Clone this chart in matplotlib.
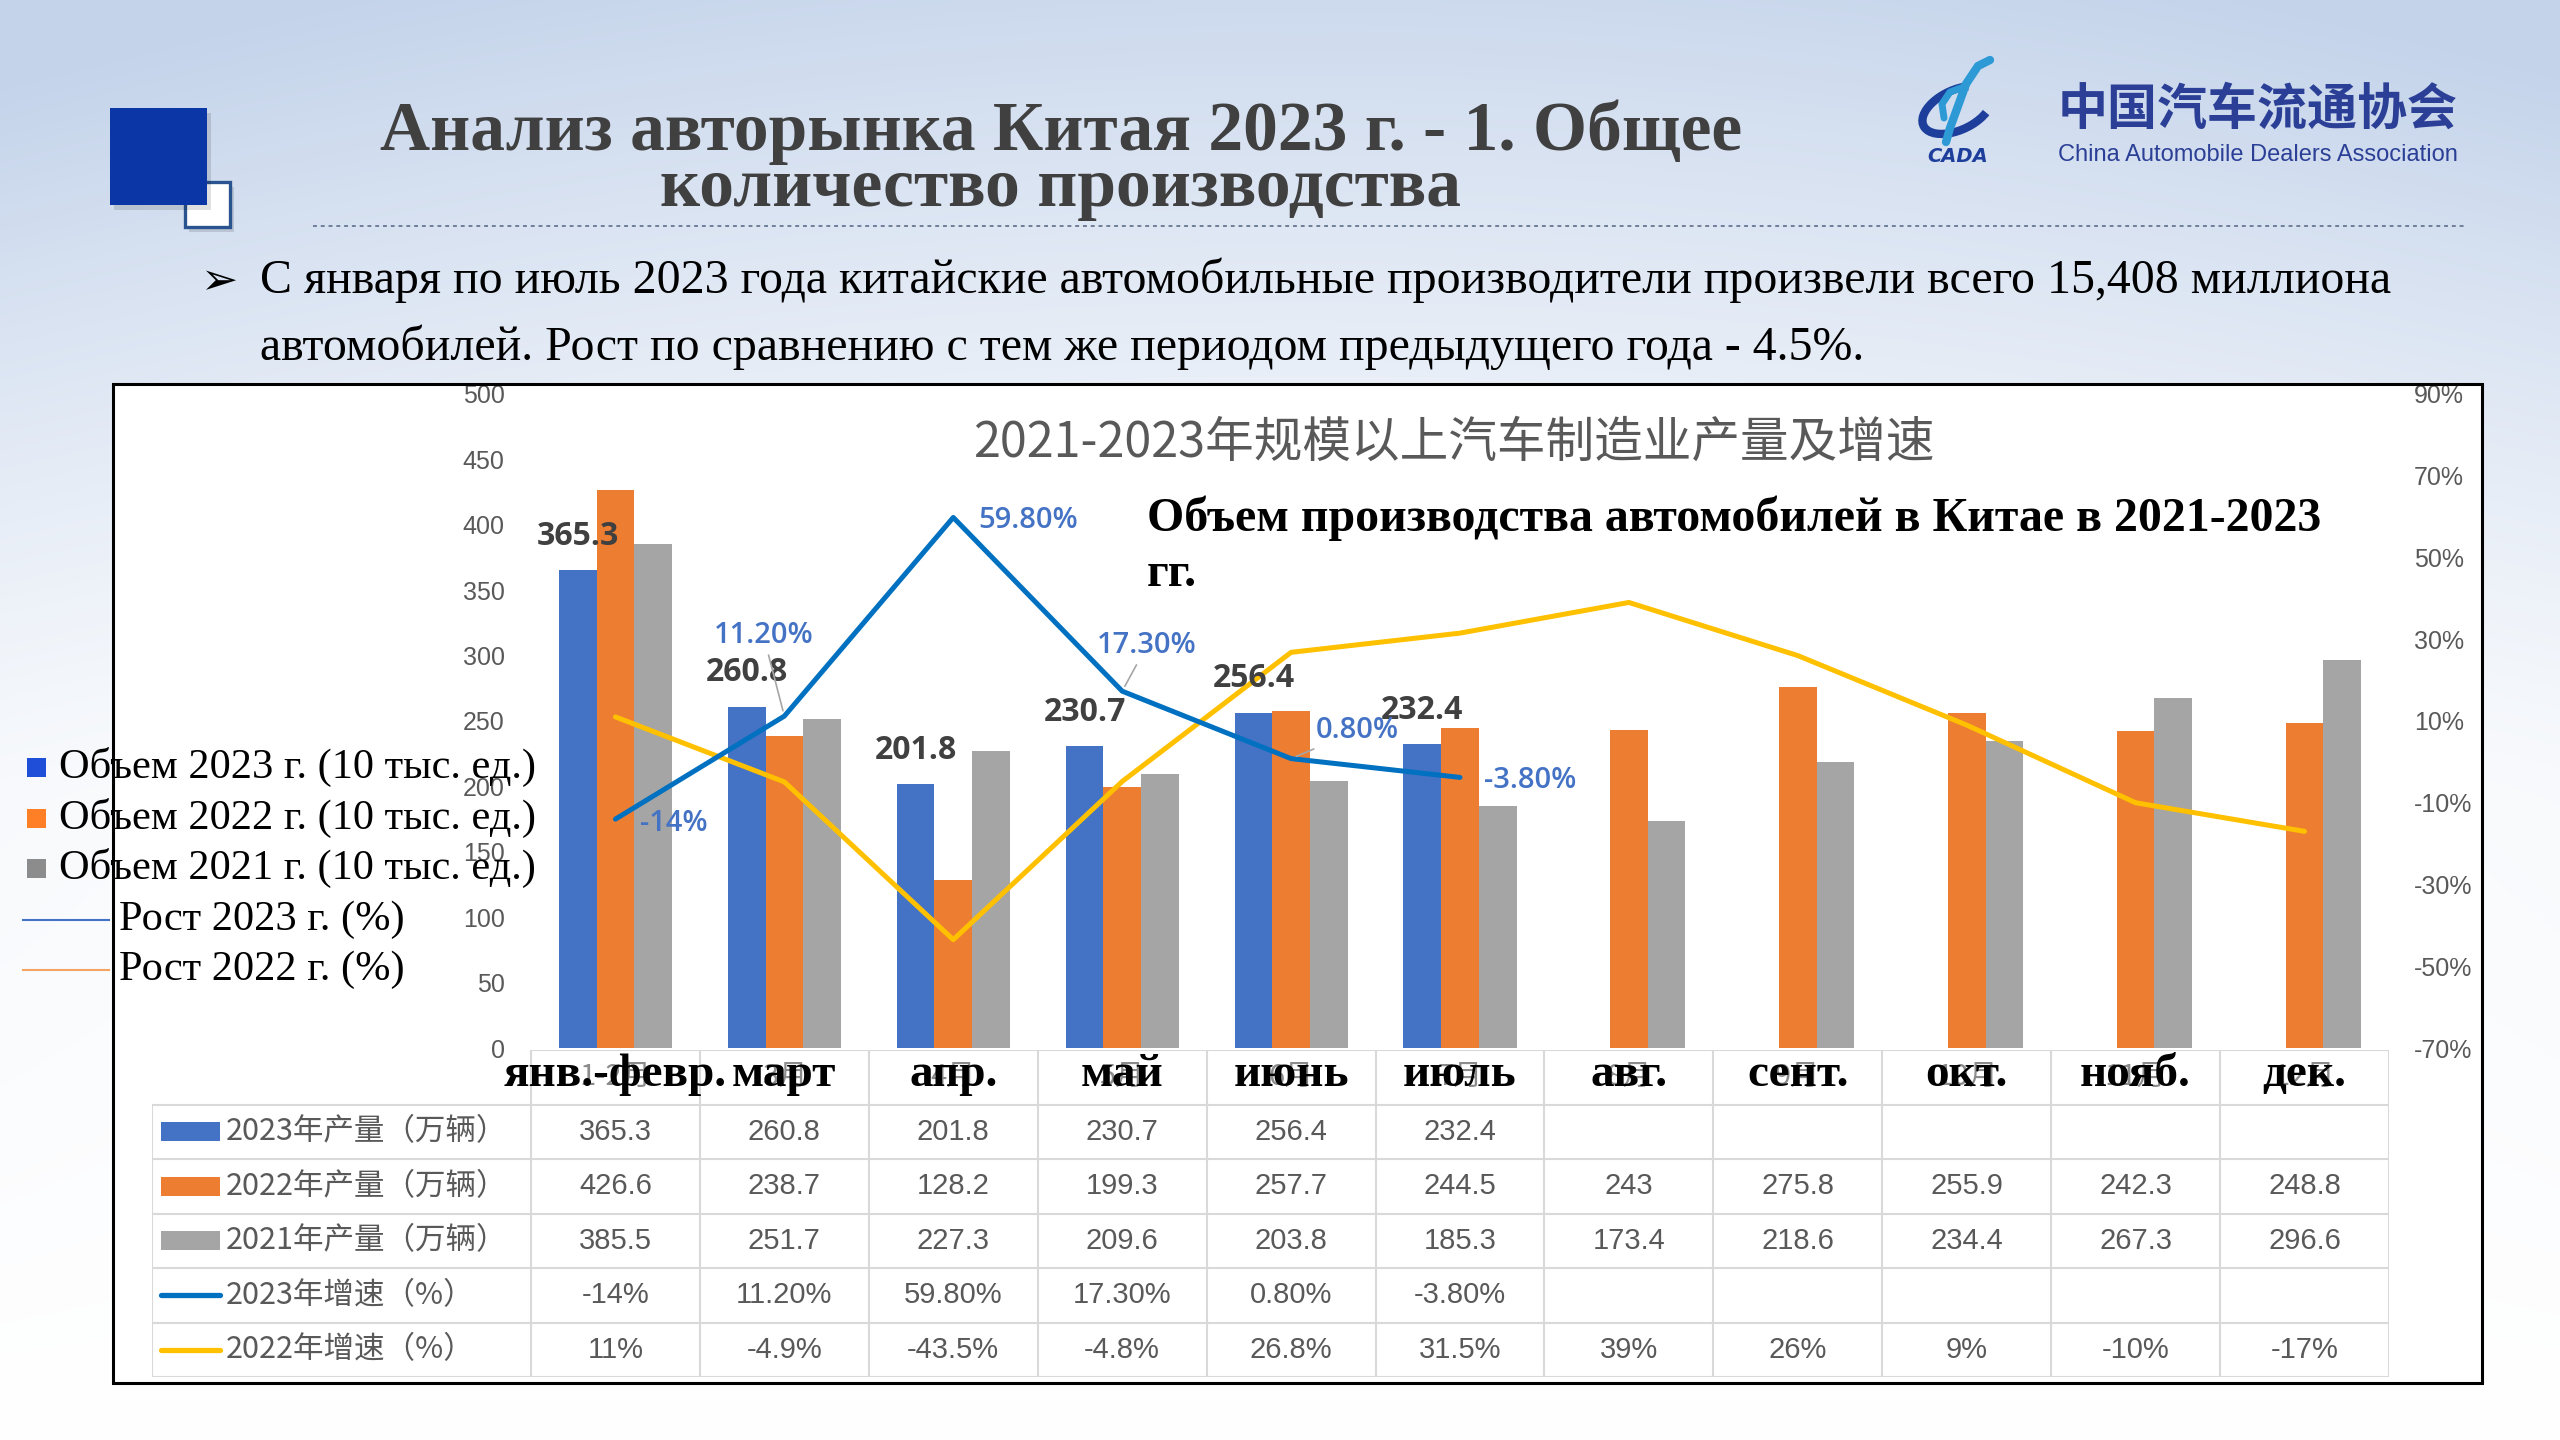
import numpy as np
import matplotlib
matplotlib.use('Agg')
import matplotlib.pyplot as plt
from matplotlib.patches import Rectangle, Arc
from matplotlib.lines import Line2D

W, H = 2560, 1440

#--------------------------------------
# data
#--------------------------------------
months_ru = ['янв.-февр.', 'март', 'апр.', 'май', 'июнь', 'июль',
             'авг.', 'сент.', 'окт.', 'нояб.', 'дек.']
months_cn = ['1-2月', '3月', '4月', '5月', '6月', '7月', '8月', '9月', '10月', '11月', '12月']
vol_2023 = [365.3, 260.8, 201.8, 230.7, 256.4, 232.4]
vol_2022 = [426.6, 238.7, 128.2, 199.3, 257.7, 244.5, 243, 275.8, 255.9, 242.3, 248.8]
vol_2021 = [385.5, 251.7, 227.3, 209.6, 203.8, 185.3, 173.4, 218.6, 234.4, 267.3, 296.6]
growth_2023 = [-14, 11.2, 59.8, 17.3, 0.8, -3.8]
growth_2022 = [11, -4.9, -43.5, -4.8, 26.8, 31.5, 39, 26, 9, -10, -17]
growth_2023_txt = ['-14%', '11.20%', '59.80%', '17.30%', '0.80%', '-3.80%']
growth_2022_txt = ['11%', '-4.9%', '-43.5%', '-4.8%', '26.8%', '31.5%', '39%', '26%', '9%', '-10%', '-17%']
row_labels = ['2023年产量（万辆）', '2022年产量（万辆）', '2021年产量（万辆）',
              '2023年增速（%）', '2022年增速（%）']
legend_labels = ['Объем 2023 г. (10 тыс. ед.)', 'Объем 2022 г. (10 тыс. ед.)',
                 'Объем 2021 г. (10 тыс. ед.)', 'Рост 2023 г. (%)', 'Рост 2022 г. (%)']

title1 = 'Анализ авторынка Китая 2023 г. - 1. Общее'
title2 = 'количество производства'
bullet1 = 'С января по июль 2023 года китайские автомобильные производители произвели всего 15,408 миллиона'
bullet2 = 'автомобилей. Рост по сравнению с тем же периодом предыдущего года - 4.5%.'
chart_title_cn = '2021-2023年规模以上汽车制造业产量及增速'
chart_title_ru = 'Объем производства автомобилей в Китае в 2021-2023'

# colours
c23, c22, c21 = '#4472C4', '#ED7D31', '#A5A5A5'
cg23, cg22 = '#0070C0', '#FFC000'
gridc = '#D9D9D9'
txtgray = '#595959'

SERIF = ['Liberation Serif', 'DejaVu Serif']
NARROW = ['Liberation Sans Narrow', 'Liberation Sans']
CJK = ['Noto Sans CJK SC', 'DejaVu Sans']

fig = plt.figure(figsize=(25.6, 14.4), dpi=100)

def box(x0, y0, x1, y1):
    # pixel box (top-left origin) -> figure fraction rect
    return [x0 / W, 1 - y1 / H, (x1 - x0) / W, (y1 - y0) / H]

#--------------------------------------
# background / slide decorations
#--------------------------------------
bg = fig.add_axes([0, 0, 1, 1], zorder=-5)
bg.set_xlim(0, W); bg.set_ylim(H, 0); bg.axis('off')
yy, xx = np.mgrid[0:H:4, 0:W:4]
wgt = 0.85 * np.clip(1 - yy / 800.0, 0, 1) ** 1.3
wgt += 0.28 * np.clip(1 - yy / 1440.0, 0, 1) * (np.abs(xx - 1300) / 1300.0) ** 2
wgt = np.clip(wgt, 0, 1)[..., None]
tint = np.array([0.77, 0.83, 0.92])
img = (1 - wgt) * np.ones(3) + wgt * tint
bg.imshow(img, extent=[0, W, H, 0], aspect='auto', interpolation='bilinear', zorder=0)

# blue squares
bg.add_patch(Rectangle((189, 187), 45, 45, fc=(0, 0, 0, 0.12), ec='none', zorder=1))
bg.add_patch(Rectangle((185, 182), 45, 45, fc='white', ec='#2a5490', lw=2.4, zorder=2))
bg.add_patch(Rectangle((114, 113), 97, 97, fc=(0, 0, 0, 0.12), ec='none', zorder=2))
bg.add_patch(Rectangle((110, 108), 97, 97, fc='#0b37a6', ec='none', zorder=3))

bg.text(1061, 150, title1, ha='center', va='baseline', fontsize=50, fontweight='bold',
        family=SERIF, color='#404040', zorder=4)
bg.text(1061, 206, title2, ha='center', va='baseline', fontsize=50, fontweight='bold',
        family=SERIF, color='#404040', zorder=4)
bg.add_line(Line2D([313, 2464], [226, 226], color='#6f7f99', lw=1.4,
                   linestyle=(0, (2, 2)), zorder=4))

# logo
bg.add_patch(Arc((1957, 110), 74, 40, angle=-25, theta1=30, theta2=320,
                 color='#1d3e9a', lw=6, zorder=4))
bg.add_line(Line2D([1990, 1978, 1966, 1958, 1950, 1946], [60, 66, 84, 106, 128, 142],
                   color='#2d9ad6', lw=6, solid_capstyle='round', zorder=5))
bg.add_line(Line2D([1966, 1950, 1942, 1944], [86, 92, 104, 118],
                   color='#2d9ad6', lw=5, solid_capstyle='round', zorder=5))
bg.text(1958, 156, 'CADA', ha='center', va='center', fontsize=14, fontweight='bold',
        style='italic', color='#1d3e9a', zorder=5)
bg.text(2258, 110, '中国汽车流通协会', ha='center', va='center', fontsize=36,
        fontweight='bold', family=CJK, color='#2b3f96', zorder=5)
bg.text(2258, 155, 'China Automobile Dealers Association', ha='center', va='center',
        fontsize=17, family=NARROW, color='#2b3f96', zorder=5)

# bullet text
bg.text(200, 294, '➢', ha='left', va='baseline', fontsize=32, family=['DejaVu Sans'],
        color='black', zorder=5)
bg.text(260, 293, bullet1, ha='left', va='baseline', fontsize=34.5, family=SERIF,
        color='black', zorder=5)
bg.text(260, 360, bullet2, ha='left', va='baseline', fontsize=34.5, family=SERIF,
        color='black', zorder=5)

# white chart card
bg.add_patch(Rectangle((113, 384), 2482 - 113, 1383 - 384, fc='white', ec='none', zorder=6))

#--------------------------------------
# table under the chart
#--------------------------------------
col_px = (2389 - 531) / 11.0
x_left = -0.5 - (531 - 152) / col_px
tab = fig.add_axes(box(152, 1050, 2389, 1377), zorder=0)
tab.set_xlim(x_left, 10.5); tab.set_ylim(6, 0); tab.axis('off')
tab.patch.set_alpha(0)

tab.plot([-0.5, 10.5], [0, 0], color=gridc, lw=1.5)
for r in range(1, 7):
    tab.plot([x_left, 10.5], [r, r], color=gridc, lw=1.5)
for k in range(12):
    tab.plot([-0.5 + k, -0.5 + k], [0, 6], color=gridc, lw=1.5)
tab.plot([x_left, x_left], [1, 6], color=gridc, lw=1.5)

for i in range(len(months_ru)):
    tab.text(i, 0.5, months_cn[i], ha='center', va='center', fontsize=21,
             family=CJK, color='#8c8c8c', zorder=2)
    tab.text(i, 0.45, months_ru[i], ha='center', va='center', fontsize=34,
             fontweight='bold', family=SERIF, color='black', zorder=3)

rows = [vol_2023, vol_2022, vol_2021, growth_2023_txt, growth_2022_txt]
sw_colors = [c23, c22, c21, cg23, cg22]
u = 1.0 / col_px
for r, vals in enumerate(rows):
    yc = r + 1.5
    if r < 3:
        tab.add_patch(Rectangle((x_left + 9 * u, yc - 0.17), 59 * u, 0.34,
                                fc=sw_colors[r], ec='none'))
    else:
        tab.plot([x_left + 9 * u, x_left + 68 * u], [yc, yc], color=sw_colors[r],
                 lw=3.8, solid_capstyle='round')
    tab.text(x_left + 74 * u, yc, row_labels[r], ha='left', va='center', fontsize=22,
             family=CJK, color=txtgray)
    for i, v in enumerate(vals):
        s = v if isinstance(v, str) else f'{v:g}'
        tab.text(i, yc, s, ha='center', va='center', fontsize=21,
                 family=['Liberation Sans'], color=txtgray)

#--------------------------------------
# bars + growth lines
#--------------------------------------
x = np.arange(len(months_ru))
bw = 0.223
ax = fig.add_axes(box(531, 394, 2389, 1048), zorder=1)
ax.patch.set_alpha(0)
ax.bar(x[:len(vol_2023)] - bw, vol_2023, bw, color=c23, zorder=2)
ax.bar(x, vol_2022, bw, color=c22, zorder=2)
ax.bar(x + bw, vol_2021, bw, color=c21, zorder=2)
ax.set_xlim(-0.5, 10.5)
ax.set_ylim(0, 500)
ax.set_xticks([])
ax.set_yticks(range(0, 501, 50))
ax.tick_params(axis='y', length=0, pad=19, labelsize=18, labelcolor=txtgray)
for t in ax.get_yticklabels():
    t.set_family(NARROW)
for s in ax.spines.values():
    s.set_visible(False)

ax2 = ax.twinx()
ax2.set_zorder(2)
ax2.patch.set_alpha(0)
ax2.set_ylim(-70, 90)
ax2.set_yticks(range(-70, 91, 20))
ax2.set_yticklabels([f'{t}%' for t in range(-70, 91, 20)])
ax2.tick_params(axis='y', length=0, pad=18, labelsize=18, labelcolor=txtgray)
for t in ax2.get_yticklabels():
    t.set_family(NARROW)
for s in ax2.spines.values():
    s.set_visible(False)

ax2.plot(x, growth_2022, color=cg22, lw=3.6, solid_joinstyle='round',
         solid_capstyle='round', zorder=3)
ax2.plot(x[:len(growth_2023)], growth_2023, color=cg23, lw=3.6, solid_joinstyle='round',
         solid_capstyle='round', zorder=4)

# labels on the 2023 bars
for i, v in enumerate(vol_2023):
    ax2.annotate(f'{v:g}', xy=(i - bw, v), xycoords=ax.transData, xytext=(0, 34),
                 textcoords='offset pixels', ha='center', va='center', fontsize=23,
                 fontweight='bold', family=['Open Sans', 'DejaVu Sans'], color='#404040',
                 zorder=6)

# labels on 2023 growth line
g_off = [(58, -4), (-21, 81), (75, -3), (25, 46), (66, 28), (70, -3)]
g_leader = [False, True, False, True, True, False]
for i, g in enumerate(growth_2023):
    kw = {}
    if g_leader[i]:
        kw['arrowprops'] = dict(arrowstyle='-', color='#a6a6a6', lw=1.2,
                                shrinkA=2, shrinkB=4)
    ax2.annotate(growth_2023_txt[i], xy=(i, g), xytext=g_off[i], textcoords='offset pixels',
                 ha='center', va='center', fontsize=21, fontweight='semibold',
                 family=['Open Sans', 'DejaVu Sans'], color=c23, zorder=6, **kw)

#--------------------------------------
# overlay: chart frame, titles, legend
#--------------------------------------
top = fig.add_axes([0, 0, 1, 1], zorder=5)
top.set_xlim(0, W); top.set_ylim(H, 0); top.axis('off')
top.patch.set_alpha(0)
top.add_patch(Rectangle((113, 384), 2482 - 113, 1383 - 384, fill=False, ec='black', lw=2.2))

top.text(1454, 443, chart_title_cn, ha='center', va='center', fontsize=35,
         family=CJK, color=txtgray)
top.text(1147, 531, chart_title_ru, ha='left', va='baseline', fontsize=34.5,
         fontweight='bold', family=SERIF, color='black')
top.text(1147, 586, 'гг.', ha='left', va='baseline', fontsize=34.5,
         fontweight='bold', family=SERIF, color='black')

leg_y = [767, 818, 868, 920, 970]
leg_sq = ['#1F4FD8', '#FF7F27', '#8C8C8C']
leg_ln = ['#4472C4', '#F4A460']
for k, lab in enumerate(legend_labels):
    if k < 3:
        top.add_patch(Rectangle((27, leg_y[k] - 9), 19, 19, fc=leg_sq[k], ec='none'))
        top.text(59, leg_y[k], lab, ha='left', va='center', fontsize=30.5,
                 family=SERIF, color='black')
    else:
        top.add_line(Line2D([23, 109], [leg_y[k], leg_y[k]], color=leg_ln[k - 3], lw=1.5))
        top.text(119, leg_y[k], lab, ha='left', va='center', fontsize=30.5,
                 family=SERIF, color='black')

fig.savefig('out.png', dpi=100)
